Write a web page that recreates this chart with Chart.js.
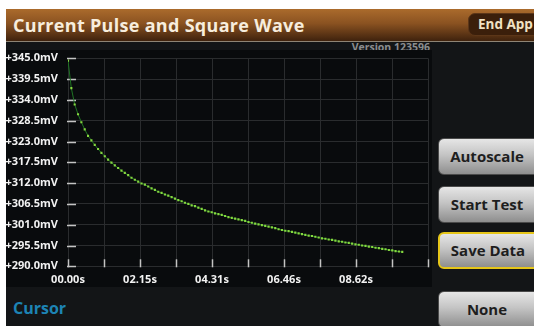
<!DOCTYPE html>
<html>
<head>
<meta charset="utf-8">
<title>Current Pulse and Square Wave</title>
<script src="https://cdn.jsdelivr.net/npm/chart.js@4.4.1/dist/chart.umd.min.js"></script>
<style>
  body { margin: 0; width: 534px; height: 326px; overflow: hidden; background: #fff; font-family: "Open Sans", sans-serif; position: relative; }
  .abs { position: absolute; }
  #screen { left: 6px; top: 9px; width: 528px; height: 317px; background: #131517; }
  #header { left: 6px; top: 9px; width: 528px; height: 32px; background: linear-gradient(#ab6b2c, #8a5221 45%, #3f220d); border-bottom: 1.5px solid #8e8475; }
  #title { left: 13px; top: 8px; line-height: 35px; font-size: 18px; font-weight: bold; color: #f7eddd; letter-spacing: 0.3px; white-space: nowrap; }
  #endApp { left: 468px; top: 13px; width: 80px; height: 23px; background: #3b1f0b; border: 1px solid #5c3618; border-radius: 7px; box-sizing: border-box; }
  #endAppText { left: 478px; top: 13px; line-height: 23px; font-size: 13.5px; font-weight: bold; color: #f1e2c4; white-space: nowrap; }
  #version { right: 104px; top: 40px; font-size: 10.5px; font-weight: bold; color: #8b8d8f; }
  #plotWrap { left: 6px; top: 50px; width: 426px; height: 237px; background: #090b0d; }
  #cursor { left: 13px; top: 297px; font-size: 16px; font-weight: bold; color: #1d84b5; }
  .btn { left: 438px; width: 104px; height: 37px; border-radius: 6px; box-sizing: border-box; border: 1px solid #4a4a4a;
         background: linear-gradient(#e6e6e6, #c4c4c4 45%, #8e8e8e); color: #1e1e1e; font-size: 15px; font-weight: bold;
         line-height: 35px; }
  .btn span { display: block; width: 96px; text-align: center; }
  .btn.active { border: 2px solid #e6c619; line-height: 33px; }
</style>
</head>
<body>
<div id="screen" class="abs"></div>
<div id="header" class="abs"></div>
<div id="title" class="abs">Current Pulse and Square Wave</div>
<div id="endApp" class="abs"></div>
<div id="endAppText" class="abs">End App</div>
<div id="version" class="abs">Version 123596</div>
<div id="plotWrap" class="abs"><canvas id="pulseChart" width="426" height="237"></canvas></div>
<div id="cursor" class="abs">Cursor</div>
<div class="abs btn" style="top:138px"><span>Autoscale</span></div>
<div class="abs btn" style="top:186px"><span>Start Test</span></div>
<div class="abs btn active" style="top:232px"><span>Save Data</span></div>
<div class="abs btn" style="top:291px"><span>None</span></div>
<script>
// Data
const timeS = [
  0.0, 0.1, 0.2, 0.3, 0.4, 0.5, 0.6, 0.7, 0.8, 0.9,
  1.0, 1.1, 1.2, 1.3, 1.4, 1.5, 1.6, 1.7, 1.8, 1.9,
  2.0, 2.1, 2.2, 2.3, 2.4, 2.5, 2.6, 2.7, 2.8, 2.9,
  3.0, 3.1, 3.2, 3.3, 3.4, 3.5, 3.6, 3.7, 3.8, 3.9,
  4.0, 4.1, 4.2, 4.3, 4.4, 4.5, 4.6, 4.7, 4.8, 4.9,
  5.0, 5.1, 5.2, 5.3, 5.4, 5.5, 5.6, 5.7, 5.8, 5.9,
  6.0, 6.1, 6.2, 6.3, 6.4, 6.5, 6.6, 6.7, 6.8, 6.9,
  7.0, 7.1, 7.2, 7.3, 7.4, 7.5, 7.6, 7.7, 7.8, 7.9,
  8.0, 8.1, 8.2, 8.3, 8.4, 8.5, 8.6, 8.7, 8.8, 8.9,
  9.0, 9.1, 9.2, 9.3, 9.4, 9.5, 9.6, 9.7, 9.8, 9.9,
  10.0
];
const voltageMv = [
  344.4, 337.1, 332.8, 330.2, 328.1, 326.2, 324.5, 323.3, 322.1, 321.0,
  320.0, 319.1, 318.2, 317.4, 316.7, 316.0, 315.3, 314.7, 314.1, 313.4,
  312.9, 312.4, 311.9, 311.6, 311.1, 310.6, 310.2, 309.7, 309.4, 309.0,
  308.7, 308.3, 307.9, 307.5, 307.2, 306.8, 306.5, 306.1, 305.9, 305.5,
  305.2, 304.8, 304.5, 304.3, 304.0, 303.8, 303.6, 303.3, 303.0, 302.8,
  302.6, 302.4, 302.2, 302.0, 301.7, 301.5, 301.3, 301.1, 300.9, 300.7,
  300.5, 300.3, 300.1, 299.8, 299.6, 299.4, 299.3, 299.1, 298.9, 298.7,
  298.5, 298.3, 298.1, 298.0, 297.8, 297.6, 297.4, 297.3, 297.1, 297.0,
  296.8, 296.6, 296.5, 296.3, 296.2, 296.0, 295.8, 295.7, 295.5, 295.4,
  295.2, 295.1, 294.9, 294.8, 294.6, 294.5, 294.3, 294.2, 294.0, 293.9,
  293.8
];

// Axis setup (11 gridlines each way)
const xMin = 0, xMax = 10.77;
const yMin = 290, yMax = 345;
const xTickLabels = ['00.00s', '', '02.15s', '', '04.31s', '', '06.46s', '', '08.62s', '', ''];
const yTickLabels = ['+290.0mV', '+295.5mV', '+301.0mV', '+306.5mV', '+312.0mV', '+317.5mV',
                     '+323.0mV', '+328.5mV', '+334.0mV', '+339.5mV', '+345.0mV'];

const gridColor = '#2a2c2e';
const tickFont = { family: 'Open Sans', weight: 'bold', size: 11 };

// Short white tick marks drawn inside the plot, like the instrument does
const innerTicks = {
    id: 'innerTicks',
    beforeDatasetsDraw(chart) {
        const { ctx, chartArea, scales } = chart;
        ctx.save();
        ctx.strokeStyle = '#c4c4c4';
        ctx.lineWidth = 1.5;
        scales.y.ticks.forEach(t => {
            const y = Math.round(scales.y.getPixelForValue(t.value)) + 0.5;
            ctx.beginPath();
            ctx.moveTo(chartArea.left - 1, y);
            ctx.lineTo(chartArea.left + 8, y);
            ctx.stroke();
        });
        scales.x.ticks.forEach(t => {
            const x = Math.round(scales.x.getPixelForValue(t.value)) + 0.5;
            ctx.beginPath();
            ctx.moveTo(x, chartArea.bottom - 7);
            ctx.lineTo(x, chartArea.bottom + 1);
            ctx.stroke();
        });
        ctx.restore();
    }
};

new Chart(document.getElementById('pulseChart'), {
    type: 'line',
    data: {
        datasets: [{
            data: timeS.map((t, i) => ({ x: t, y: voltageMv[i] })),
            borderColor: '#1f7424',
            borderWidth: 1,
            pointStyle: 'rect',
            pointRadius: 1.5,
            pointBorderWidth: 0,
            pointBackgroundColor: '#86d640',
            tension: 0
        }]
    },
    options: {
        responsive: false,
        animation: false,
        layout: { padding: { top: 8.3, right: 2, left: 0, bottom: 0 } },
        plugins: { legend: { display: false }, tooltip: { enabled: false } },
        scales: {
            x: {
                type: 'linear',
                min: xMin,
                max: xMax,
                afterFit(scale) {
                    scale.height = 20.7;
                    scale.paddingLeft = 0;
                    scale.paddingRight = 0;
                },
                grid: { color: gridColor, drawTicks: false },
                border: { display: false },
                ticks: {
                    count: 11,
                    autoSkip: false,
                    maxRotation: 0,
                    padding: 7,
                    color: '#f2f2f2',
                    font: tickFont,
                    callback: (v, i) => xTickLabels[i]
                }
            },
            y: {
                min: yMin,
                max: yMax,
                afterFit(scale) {
                    scale.width = 62;
                    scale.paddingTop = 0;
                    scale.paddingBottom = 0;
                },
                grid: { color: gridColor, drawTicks: false },
                border: { display: false },
                ticks: {
                    count: 11,
                    padding: 10,
                    color: '#f2f2f2',
                    font: tickFont,
                    callback: (v, i) => yTickLabels[i]
                }
            }
        }
    },
    plugins: [innerTicks]
});
</script>
</body>
</html>
